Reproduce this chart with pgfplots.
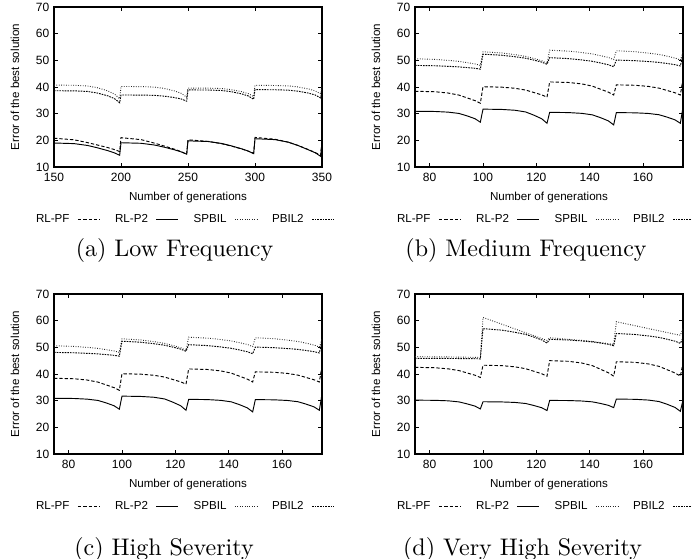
\documentclass[border=0pt]{standalone}
\usepackage{pgfplots}
\pgfplotsset{compat=1.18}
\usepackage{pgfplotstable}
\usepackage{fontspec}
\newfontfamily\arial{Liberation Sans}

\pgfplotstableread{
x pf p2 sp pb
150 20.8 19.0 40.7 38.6
165 20.2 18.77 40.65 38.56
175 19.15 18.08 40.39 38.33
182 18.3 17.25 39.78 37.79
190 17.3 16.15 38.56 36.71
195 16.55 15.32 37.39 35.68
199 15.8 14.4 35.6 34.1
200 21.0 19.1 40.2 37.0
215 20.26 18.89 40.16 36.98
225 18.95 18.24 39.96 36.86
232 17.9 17.47 39.48 36.59
240 16.66 16.43 38.52 36.03
245 15.73 15.66 37.6 35.5
249 14.8 14.8 36.2 34.7
250 20.2 19.8 39.6 38.9
265 19.6 19.56 39.57 38.87
275 18.75 18.84 39.41 38.69
282 17.9 17.98 39.02 38.27
290 16.8 16.82 38.26 37.43
295 15.95 15.96 37.52 36.63
299 15.2 15.0 36.4 35.4
300 21.1 20.6 40.6 39.0
315 20.4 20.27 40.57 38.97
325 19.3 19.28 40.41 38.81
332 18.1 18.09 40.02 38.44
340 16.5 16.41 39.26 37.7
345 15.41 15.32 38.52 36.99
349 14.4 14.0 37.4 35.9
350 20.0 19.5 40.5 39.0
}\tabA

\pgfplotstableread{
x pf p2 sp pb
74.5 38.4 30.9 50.6 48.1
82 38.22 30.82 50.35 47.96
87 37.73 30.57 49.98 47.75
91 36.96 30.08 49.6 47.54
94 35.93 29.18 49.15 47.29
97 34.89 28.11 48.65 47.01
99 33.9 26.8 48.1 46.7
100 40.1 31.7 53.2 52.3
107 39.94 31.59 52.77 51.92
112 39.52 31.28 52.13 51.35
116 38.85 30.64 51.48 50.78
119 37.96 29.47 50.71 50.1
122 37.06 28.1 49.85 49.34
124 36.2 26.4 48.9 48.5
125 41.9 30.5 53.8 51.0
132 41.7 30.41 53.45 50.66
137 41.17 30.12 52.93 50.15
141 40.33 29.56 52.4 49.64
144 39.2 28.53 51.77 49.03
147 38.08 27.3 51.07 48.35
149 37.0 25.8 50.3 47.6
150 40.8 30.4 53.6 50.1
157 40.65 30.32 53.25 49.88
162 40.23 30.08 52.73 49.55
166 39.58 29.6 52.2 49.22
169 38.71 28.72 51.57 48.82
172 37.84 27.68 50.87 48.38
174 37.0 26.4 50.1 47.9
175 43 32.5 53 52
}\tabB

\pgfplotstableread{
x pf p2 sp pb
74.5 42.5 30.2 46.5 45.9
82 42.35 30.13 46.45 45.87
87 41.93 29.94 46.4 45.83
91 41.28 29.54 46.35 45.8
94 40.41 28.81 46.3 45.77
97 39.54 27.96 46.25 45.73
99 38.7 26.9 46.2 45.7
100 43.3 29.6 61.2 57.0
107 43.14 29.53 58.71 56.46
112 42.69 29.34 56.9 55.65
116 41.99 28.94 55.44 54.84
119 41.05 28.21 54.41 53.87
122 40.1 27.36 53.29 52.79
124 39.2 26.3 52.6 51.6
125 45.0 30.1 53.6 53.0
132 44.77 30.05 53.0 52.76
137 44.13 29.88 52.6 52.4
141 43.14 29.56 52.2 52.04
144 41.81 28.97 51.8 51.61
147 40.48 28.26 51.4 51.13
149 39.2 27.4 51.1 50.6
150 44.6 30.6 59.6 55.2
157 44.38 30.51 58.12 54.83
162 43.79 30.23 57.05 54.28
166 42.87 29.68 56.18 53.72
169 41.63 28.67 55.57 53.05
172 40.39 27.47 54.91 52.31
174 39.2 26.0 54.5 51.5
175 44 30.2 57 53.5
}\tabD

\pgfplotsset{
  panel/.style={
    scale only axis, width=201pt, height=120pt,
    anchor=south west,
    ymin=10, ymax=70, ytick={10,20,...,70},
    tick align=inside, major tick length=3pt,
    axis line style={line width=0.8pt},
    every tick/.style={black, line width=0.6pt},
    tick label style={font=\arial\fontsize{9}{10}\selectfont},
    xticklabel style={yshift=-1.2pt},
    label style={font=\arial\fontsize{8.7}{10}\selectfont},
    /pgf/number format/assume math mode=true,
    /pgf/number format/1000 sep={},
    xlabel={Number of generations},
    ylabel={Error of the best solution},
    xlabel style={at={(axis description cs:0.5,-0.1875)}, anchor=center},
    ylabel style={at={(axis description cs:-0.1455,0.5)}, anchor=center},
    legend plot pos=right,
    legend columns=4,
    legend image code/.code={\draw[##1] (0pt,0pt) -- (16.5pt,0pt);},
    legend style={draw=none, fill=none,
      at={(axis description cs:0.485,-0.33)}, anchor=center,
      font=\arial\fontsize{8.7}{10}\selectfont,
      /tikz/every odd column/.append style={column sep=4pt},
      /tikz/every even column/.append style={column sep=9pt}},
  },
  pfs/.style={black, line width=0.7pt, dash pattern=on 2.5pt off 1.5pt},
  p2s/.style={black, line width=0.7pt, solid},
  sps/.style={black!85, line width=0.7pt, dash pattern=on 0.6pt off 1.2pt},
  pbs/.style={black, line width=0.7pt, dash pattern=on 1.2pt off 0.8pt},
}
\tikzset{capt/.style={anchor=base, scale=1.8, font=\fontsize{10}{12}\selectfont}}

\begin{document}
\begin{tikzpicture}
\useasboundingbox (0,0) rectangle (519pt,418.5pt);

\begin{axis}[panel, at={(40.5pt,293.25pt)}, xmin=150, xmax=350, xtick={150,200,...,350}]
\addplot[pfs] table[x=x,y=pf]{\tabA};
\addplot[p2s] table[x=x,y=p2]{\tabA};
\addplot[sps] table[x=x,y=sp]{\tabA};
\addplot[pbs] table[x=x,y=pb]{\tabA};
\legend{RL-PF,RL-P2,SPBIL,PBIL2}
\end{axis}

\begin{axis}[panel, at={(311.25pt,293.25pt)}, xmin=74.5, xmax=175, xtick={80,100,...,160}]
\addplot[pfs] table[x=x,y=pf]{\tabB};
\addplot[p2s] table[x=x,y=p2]{\tabB};
\addplot[sps] table[x=x,y=sp]{\tabB};
\addplot[pbs] table[x=x,y=pb]{\tabB};
\legend{RL-PF,RL-P2,SPBIL,PBIL2}
\end{axis}

\begin{axis}[panel, at={(40.5pt,78pt)}, xmin=74.5, xmax=175, xtick={80,100,...,160}]
\addplot[pfs] table[x=x,y=pf]{\tabB};
\addplot[p2s] table[x=x,y=p2]{\tabB};
\addplot[sps] table[x=x,y=sp]{\tabB};
\addplot[pbs] table[x=x,y=pb]{\tabB};
\legend{RL-PF,RL-P2,SPBIL,PBIL2}
\end{axis}

\begin{axis}[panel, at={(311.25pt,78pt)}, xmin=74.5, xmax=175, xtick={80,100,...,160}]
\addplot[pfs] table[x=x,y=pf]{\tabD};
\addplot[p2s] table[x=x,y=p2]{\tabD};
\addplot[sps] table[x=x,y=sp]{\tabD};
\addplot[pbs] table[x=x,y=pb]{\tabD};
\legend{RL-PF,RL-P2,SPBIL,PBIL2}
\end{axis}

\node[capt] at (130.9pt,226.5pt) {(a) Low Frequency};
\node[capt] at (394.5pt,226.5pt) {(b) Medium Frequency};
\node[capt] at (123pt,2.25pt) {(c) High Severity};
\node[capt] at (391.9pt,2.25pt) {(d) Very High Severity};
\end{tikzpicture}
\end{document}
